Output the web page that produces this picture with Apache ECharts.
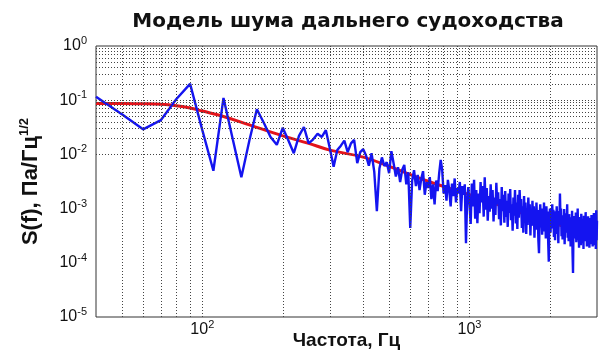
<!DOCTYPE html>
<html>
<head>
<meta charset="utf-8">
<title>Модель шума дальнего судоходства</title>
<script src="https://cdn.jsdelivr.net/npm/echarts@6/dist/echarts.min.js"></script>
<style>
  html, body { margin: 0; padding: 0; background: #fff; }
  #chart { width: 601px; height: 356px; }
</style>
</head>
<body>
<div id="chart"></div>
<script>
// Measured spectrum: one value every 10 Hz, starting at 40 Hz
const specStartHz = 40;
const specStepHz = 10;
const spectrum = [
  // 40–130 Hz
  0.116, 0.055, 0.029, 0.043, 0.105, 0.20, 0.028, 0.005, 0.11, 0.019,
  // 140–230 Hz
  0.0038, 0.018, 0.068, 0.038, 0.021, 0.015, 0.031, 0.018, 0.0105, 0.022,
  // 240–330 Hz
  0.032, 0.016, 0.019, 0.024, 0.021, 0.028, 0.013, 0.0059, 0.012, 0.0145,
  // 340–430 Hz
  0.018, 0.011, 0.016, 0.0185, 0.0069, 0.011, 0.0125, 0.0095, 0.0062, 0.0105,
  // 440–530 Hz
  0.0048, 0.0009, 0.0055, 0.0088, 0.0061, 0.0072, 0.0045, 0.0115, 0.0068, 0.0039,
  // 540–630 Hz
  0.0058, 0.0031, 0.0052, 0.0064, 0.0028, 0.0047, 0.00044, 0.0033, 0.0051, 0.0026,
  // 640–730 Hz
  0.0042, 0.0022, 0.0036, 0.0049, 0.0018, 0.0031, 0.0024, 0.0038, 0.0015, 0.0028,
  // 740–830 Hz
  0.0012, 0.0033, 0.0021, 0.0045, 0.0079, 0.0052, 0.0019, 0.0027, 0.0014, 0.0034,
  // 840–930 Hz
  0.0022, 0.0011, 0.0029, 0.0017, 0.0036, 0.0013, 0.0024, 0.0019, 0.0031, 0.0009,
  // 940–1030 Hz
  0.0026, 0.0018, 0.0028, 0.00023, 0.0015, 0.0025, 0.0012, 5.2e-4, 2.9e-3, 1.1e-3,
  // 1040–1130 Hz
  3.4e-3, 6.5e-4, 2.2e-3, 5.4e-4, 1.9e-3, 8.2e-4, 3.1e-3, 1.3e-3, 2.6e-3, 7.1e-4,
  // 1140–1230 Hz
  3.8e-3, 9.5e-4, 2.4e-3, 6.0e-4, 1.7e-3, 8.8e-4, 2.8e-3, 1.0e-3, 2.2e-3, 5.8e-4,
  // 1240–1330 Hz
  1.6e-3, 7.6e-4, 3.0e-3, 1.2e-3, 2.0e-3, 6.4e-4, 1.5e-3, 4.9e-4, 2.5e-3, 9.0e-4,
  // 1340–1430 Hz
  1.8e-3, 5.5e-4, 2.1e-3, 7.0e-4, 1.4e-3, 4.6e-4, 1.9e-3, 8.3e-4, 2.3e-3, 6.1e-4,
  // 1440–1530 Hz
  1.2e-3, 3.9e-4, 1.6e-3, 7.4e-4, 2.2e-3, 5.3e-4, 1.3e-3, 4.2e-4, 1.8e-3, 6.8e-4,
  // 1540–1630 Hz
  2.2e-3, 9.6e-4, 1.5e-3, 4.4e-4, 1.1e-3, 3.6e-4, 1.7e-3, 6.0e-4, 1.3e-3, 3.4e-4,
  // 1640–1730 Hz
  1.0e-3, 5.0e-4, 1.6e-3, 7.2e-4, 1.2e-3, 3.2e-4, 9.0e-4, 4.8e-4, 1.4e-3, 5.6e-4,
  // 1740–1830 Hz
  1.1e-3, 2.9e-4, 8.1e-4, 4.1e-4, 1.3e-3, 6.2e-4, 9.4e-4, 2.6e-4, 1.5e-4, 7.3e-4,
  // 1840–1930 Hz
  1.2e-3, 4.5e-4, 8.6e-4, 3.3e-4, 1.0e-3, 5.2e-4, 1.3e-3, 3.8e-4, 7.7e-4, 2.8e-4,
  // 1940–2030 Hz
  1.1e-3, 4.9e-4, 8.8e-4, 2.4e-4, 1.05e-4, 6.1e-4, 1.0e-3, 3.6e-4, 8.0e-4, 4.3e-4,
  // 2040–2130 Hz
  1.2e-3, 5.5e-4, 9.5e-4, 3.0e-4, 7.1e-4, 2.6e-4, 8.9e-4, 4.6e-4, 1.1e-3, 3.4e-4,
  // 2140–2230 Hz
  6.8e-4, 2.3e-4, 9.0e-4, 5.0e-4, 1.9e-3, 6.4e-4, 1.0e-3, 3.1e-4, 7.5e-4, 2.7e-4,
  // 2240–2330 Hz
  5.9e-4, 3.9e-4, 9.8e-4, 2.2e-4, 6.6e-4, 3.6e-4, 8.2e-4, 4.4e-4, 1.2e-3, 2.9e-4,
  // 2340–2430 Hz
  6.0e-4, 2.5e-4, 7.9e-4, 3.3e-4, 5.4e-4, 2.0e-4, 6.9e-4, 3.0e-4, 9.1e-4, 1.5e-4,
  // 2440–2530 Hz
  6.5e-5, 4.7e-4, 7.3e-4, 2.8e-4, 5.8e-4, 3.5e-4, 8.5e-4, 2.4e-4, 6.2e-4, 3.8e-4,
  // 2540–2630 Hz
  1.0e-3, 2.6e-4, 5.1e-4, 1.9e-4, 7.0e-4, 3.2e-4, 5.6e-4, 2.1e-4, 8.0e-4, 4.0e-4,
  // 2640–2730 Hz
  6.3e-4, 2.3e-4, 4.8e-4, 1.8e-4, 7.4e-4, 3.1e-4, 5.3e-4, 2.5e-4, 8.6e-4, 3.7e-4,
  // 2740–2830 Hz
  6.0e-4, 2.0e-4, 4.6e-4, 2.7e-4, 7.2e-4, 3.0e-4, 5.0e-4, 1.9e-4, 6.7e-4, 2.9e-4,
  // 2840–2930 Hz
  5.4e-4, 2.2e-4, 7.6e-4, 3.4e-4, 5.9e-4, 2.0e-4, 4.5e-4, 2.4e-4, 8.3e-4, 3.2e-4,
  // 2940–3000 Hz
  6.1e-4, 2.1e-4, 5.2e-4, 1.8e-4, 9.3e-4, 2.6e-4, 6.0e-4
];

// Distant-shipping noise model, sampled at these frequencies
const modelFreq = [40, 50, 60, 70, 80, 90, 100, 120, 150, 200, 250, 300, 400, 500, 700, 1000, 1500, 2000, 3000];
const modelLevel = [0.087, 0.087, 0.086, 0.084, 0.079, 0.072, 0.063, 0.050, 0.035, 0.022, 0.016, 0.012,
                    0.0089, 0.006, 0.0032, 0.0018, 0.00089, 0.00056, 0.00032];

// Axis limits
const freqMin = 40, freqMax = 3000;
const levelMin = 1e-5, levelMax = 1;

const titleText = 'Модель шума дальнего судоходства';
const xName = 'Частота, Гц';
const yNameMain = 'S(f), Па/Гц';
const yNameSup = '1/2';

const FONT = '"Liberation Sans", Arial, Helvetica, sans-serif';
const TITLE_FONT = '"DejaVu Sans", "Liberation Sans", Arial, sans-serif';

const spectrumPoints = spectrum.map((v, i) => [specStartHz + i * specStepHz, v]);
const modelPoints = modelFreq.map((f, i) => [f, modelLevel[i]]);

// Decade grid positions (1..9 × 10^k) strictly inside the axis range
function decadeLines(lo, hi) {
  const out = [];
  for (let k = Math.floor(Math.log10(lo)); k <= Math.ceil(Math.log10(hi)); k++) {
    for (let m = 1; m <= 9; m++) {
      const v = +(m * Math.pow(10, k)).toPrecision(6);
      if (v > lo * 1.0001 && v < hi * 0.9999) out.push(v);
    }
  }
  return out;
}
const gridX = decadeLines(freqMin, freqMax);
const gridY = decadeLines(levelMin, levelMax);

// Power-of-ten tick labels such as 10², 10⁻³
function powLabel(v) {
  const e = Math.log10(v);
  const r = Math.round(e);
  if (Math.abs(e - r) > 1e-6) return '';
  return '{b|10}{s|' + r + '}';
}
const labelRich = {
  b: { fontFamily: FONT, fontSize: 16, color: '#111' },
  s: { fontFamily: FONT, fontSize: 11, color: '#111', padding: [0, 0, 10, 0] }
};

const chart = echarts.init(document.getElementById('chart'), null, { renderer: 'canvas' });
chart.setOption({
  animation: false,
  backgroundColor: '#fff',
  title: {
    text: titleText,
    left: 343,
    top: 7,
    textAlign: 'center',
    textStyle: { fontFamily: TITLE_FONT, fontWeight: 'bold', fontSize: 20, color: '#111' }
  },
  grid: {
    left: 96, right: 4, top: 46, bottom: 39,
    outerBoundsMode: 'none',
    show: true, borderColor: '#333', borderWidth: 1, backgroundColor: '#fff'
  },
  xAxis: {
    type: 'log',
    logBase: 10,
    min: freqMin,
    max: freqMax,
    axisLine: { show: false },
    axisTick: { show: false },
    splitLine: { show: false },
    axisLabel: { formatter: powLabel, rich: labelRich, margin: 2 },
    name: xName,
    nameLocation: 'middle',
    nameMoveOverlap: false,
    nameGap: 14,
    nameTextStyle: { fontFamily: FONT, fontWeight: 'bold', fontSize: 19, color: '#111' }
  },
  yAxis: {
    type: 'log',
    logBase: 10,
    min: levelMin,
    max: levelMax,
    axisLine: { show: false },
    axisTick: { show: false },
    splitLine: { show: false },
    axisLabel: { formatter: powLabel, rich: labelRich, margin: 9 },
    name: '{n|' + yNameMain + '}{s|' + yNameSup + '}',
    nameLocation: 'middle',
    nameMoveOverlap: false,
    nameRotate: 90,
    nameGap: 53,
    nameTextStyle: {
      rich: {
        n: { fontFamily: FONT, fontWeight: 'bold', fontSize: 22, color: '#111' },
        s: { fontFamily: FONT, fontWeight: 'bold', fontSize: 13, color: '#111', padding: [0, 0, 12, 0] }
      }
    }
  },
  series: [
    {
      name: 'grid',
      type: 'line',
      data: [],
      z: 1,
      silent: true,
      markLine: {
        silent: true,
        symbol: ['none', 'none'],
        label: { show: false },
        lineStyle: { type: [1, 2], color: '#444', width: 1 },
        data: gridX.map(v => ({ xAxis: v })).concat(gridY.map(v => ({ yAxis: v })))
      }
    },
    {
      name: 'model',
      type: 'line',
      data: modelPoints,
      smooth: 0.4,
      showSymbol: false,
      z: 2,
      lineStyle: { color: '#e3141b', width: 3 }
    },
    {
      name: 'spectrum',
      type: 'line',
      data: spectrumPoints,
      showSymbol: false,
      z: 3,
      lineStyle: { color: '#1414f0', width: 2.4 }
    }
  ]
});
</script>
</body>
</html>
